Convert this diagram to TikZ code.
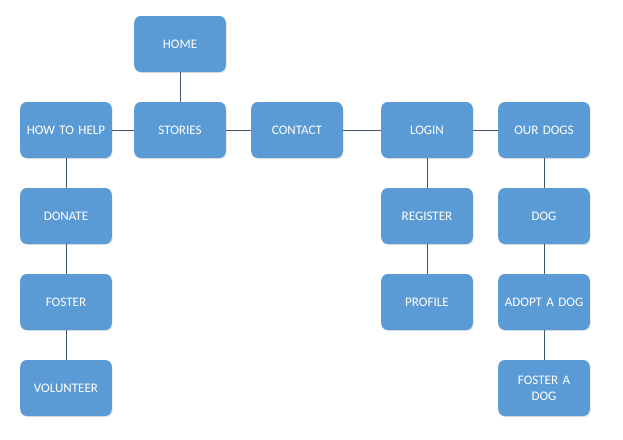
\documentclass[tikz,border=0pt]{standalone}
\usepackage{fontspec}
\setmainfont{Carlito}
\usetikzlibrary{shadows}
\definecolor{boxblue}{HTML}{5B9BD5}
\definecolor{linecol}{HTML}{41556B}
\tikzset{
  pagebox/.style={draw=none, fill=boxblue, rounded corners=5pt, minimum width=67.5pt, minimum height=42pt,
    text=white, font=\fontsize{9.8}{11.5}\selectfont, align=center, text width=62pt,
    drop shadow={shadow xshift=0.6pt, shadow yshift=-0.8pt, opacity=0.18, fill=black!60}},
  link/.style={draw=linecol, line width=0.6pt}
}
\begin{document}
\begin{tikzpicture}[x=0.75pt,y=-0.75pt]
\useasboundingbox (0,0) rectangle (623,439);
\node[pagebox] (home) at (180,44) {HOME};
\node[pagebox] (help) at (66,130) {HOW TO HELP};
\node[pagebox] (stories) at (180,130) {STORIES};
\node[pagebox] (contact) at (297,130) {CONTACT};
\node[pagebox] (login) at (427,130) {LOGIN};
\node[pagebox] (ourdogs) at (544,130) {OUR DOGS};
\node[pagebox] (donate) at (66,216) {DONATE};
\node[pagebox] (register) at (427,216) {REGISTER};
\node[pagebox] (dog) at (544,216) {DOG};
\node[pagebox] (foster) at (66,302) {FOSTER};
\node[pagebox] (profile) at (427,302) {PROFILE};
\node[pagebox] (adopt) at (544,302) {ADOPT A DOG};
\node[pagebox] (volunteer) at (66,388) {VOLUNTEER};
\node[pagebox] (fosterdog) at (544,388) {FOSTER A\\[0.5pt] DOG};
\draw[link] (home) -- (stories);
\draw[link] (help) -- (stories);
\draw[link] (stories) -- (contact);
\draw[link] (contact) -- (login);
\draw[link] (login) -- (ourdogs);
\draw[link] (help) -- (donate);
\draw[link] (donate) -- (foster);
\draw[link] (foster) -- (volunteer);
\draw[link] (login) -- (register);
\draw[link] (register) -- (profile);
\draw[link] (ourdogs) -- (dog);
\draw[link] (dog) -- (adopt);
\draw[link] (adopt) -- (fosterdog);
\end{tikzpicture}
\end{document}
